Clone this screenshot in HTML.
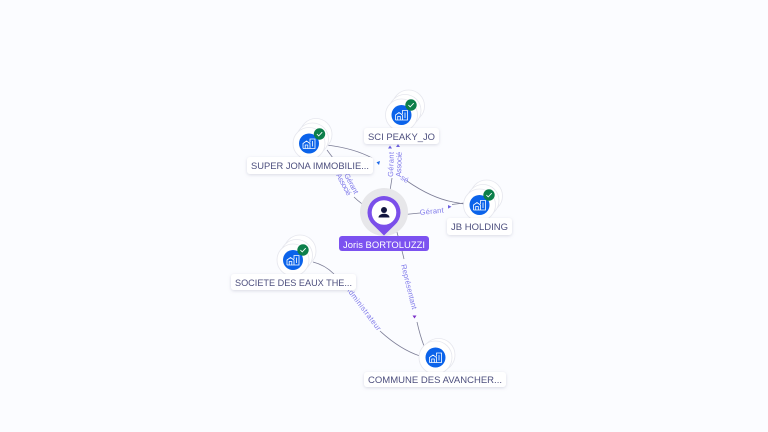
<!DOCTYPE html>
<html><head><meta charset="utf-8"><style>
html,body{margin:0;padding:0;background:#fbfcff}
svg{display:block}
text{font-family:"Liberation Sans",sans-serif}
.l{font-size:9px;fill:#4d4f7e}
.e{font-size:7.5px;fill:#7f79ea}
.w{fill:none;stroke:#7c7d96;stroke-width:.8}
</style></head><body>
<svg width="768" height="432" viewBox="0 0 768 432" xmlns="http://www.w3.org/2000/svg">
<defs>
<filter id="s" x="-20%" y="-40%" width="140%" height="200%"><feDropShadow dx="0" dy="1" stdDeviation="1.5" flood-color="#8a8aa8" flood-opacity=".3"/></filter>
<g id="b"><path d="M-6 5V0L-2.500 -2.500 1 0V5H-6M-3.800 5V1.500H-1.200V5M1 -1V-4.500H6V5H1M3.500 -2.500V3" fill="none" stroke="#fff" stroke-width=".8"/></g>
<g id="n"><circle cx="7" cy="-9" r="16" fill="#fff" stroke="#e6e7ee" stroke-width=".8"/><circle cx="3.500" cy="-4.500" r="16" fill="#fff" stroke="#e6e7ee" stroke-width=".8"/><circle r="16" fill="#fff" stroke="#e6e7ee" stroke-width=".8"/><circle r="10" fill="#0b63ea"/><use href="#b"/></g>
<g id="c"><circle r="5.700" fill="#0c7f4a"/><path d="M-2.600 0L-.8 1.900 2.700 -1.800" fill="none" stroke="#fff" stroke-width=".9"/></g>
</defs>
<rect width="768" height="432" fill="#fbfcff"/>
<path class="w" d="M327 145C343 147 359 151 372 158"/>
<path class="w" d="M327 150L333 158"/>
<path class="w" d="M354 197C358 201 363 205 369 208"/>
<path class="w" d="M389 197L392 178"/>
<path class="w" d="M407 181C420 190 437 199 453 202L464 204"/>
<path class="w" d="M400 215L420 213"/>
<path class="w" d="M452 204.500L464 203"/>
<path class="w" d="M395 225C398 236 402 250 404 259"/>
<path class="w" d="M417 322C419 331 421 338 424 346"/>
<path class="w" d="M313 262C321 264 328 268 334 274"/>
<path class="w" d="M380 331C392 342 405 351 420 356"/>
<g fill="#6a5fe0">
<path d="M380 161l-3.500 1.200 2.500 2.800z" fill="#1f6ae8"/>
<path d="M388 148.500l2-3 2 3z"/><path d="M396 147l2-3 2 3z"/>
<path d="M448 205l3.500 1.800-3.500 1.800z"/>
<path d="M412.500 315.500l2 3 2-3z" fill="#7b32c8"/>
</g>
<text class="e" transform="translate(393,177) rotate(-88)" textLength="25">Gérant</text>
<text class="e" transform="translate(401,177) rotate(-88)" textLength="25">Associé</text>
<text class="e" transform="translate(400,179) rotate(32)">sé</text>
<text class="e" transform="translate(420,215) rotate(-6)" textLength="24">Gérant</text>
<text class="e" transform="translate(344,175) rotate(62)" textLength="22">Gérant</text>
<text class="e" transform="translate(336,175) rotate(62)" textLength="24">Associé</text>
<text class="e" transform="translate(401,265) rotate(76)" textLength="46">Représentant</text>
<text class="e" transform="translate(345,288) rotate(53)" textLength="54">Administrateur</text>

<use href="#n" x="309" y="143.500"/><use href="#c" x="319.500" y="134"/>
<use href="#n" x="401.500" y="115"/><use href="#c" x="411" y="105"/>
<use href="#n" x="479.500" y="205"/><use href="#c" x="489" y="195"/>
<use href="#n" x="293" y="260"/><use href="#c" x="303" y="250"/>
<circle cx="438.500" cy="355" r="16.500" fill="#fff" stroke="#e6e7ee" stroke-width=".8"/>
<circle cx="435.500" cy="357.500" r="16.500" fill="#fff" stroke="#e6e7ee" stroke-width=".8"/>
<circle cx="435.500" cy="357.500" r="10" fill="#0b63ea"/><use href="#b" x="435.500" y="357.500"/>

<rect x="247" y="157" width="126" height="17" rx="3" fill="#fff" filter="url(#s)"/>
<text class="l" x="251" y="169" textLength="118" lengthAdjust="spacingAndGlyphs">SUPER JONA IMMOBILIE...</text>
<rect x="364" y="128" width="75" height="16" rx="3" fill="#fff" filter="url(#s)"/>
<text class="l" x="368" y="140" textLength="67" lengthAdjust="spacingAndGlyphs">SCI PEAKY_JO</text>
<rect x="447" y="218" width="65" height="17" rx="3" fill="#fff" filter="url(#s)"/>
<text class="l" x="451" y="230" textLength="57" lengthAdjust="spacingAndGlyphs">JB HOLDING</text>
<rect x="231" y="274" width="125" height="16" rx="3" fill="#fff" filter="url(#s)"/>
<text class="l" x="235" y="286" textLength="117" lengthAdjust="spacingAndGlyphs">SOCIETE DES EAUX THE...</text>
<rect x="364" y="372" width="142" height="15" rx="3" fill="#fff" filter="url(#s)"/>
<text class="l" x="368" y="383" textLength="134" lengthAdjust="spacingAndGlyphs">COMMUNE DES AVANCHER...</text>

<circle cx="384" cy="212" r="24" fill="#e7e7ea"/>
<path d="M384 235.500L373 224.800A16.500 16.500 0 1 1 395 224.800Z" fill="#7b4fea"/>
<circle cx="384" cy="212.500" r="12.300" fill="#fff"/>
<circle cx="384" cy="210" r="3" fill="#12163f"/>
<path d="M378.500 217.500C378.500 212.500 389.500 212.500 389.500 217.500Z" fill="#12163f"/>
<rect x="339" y="236" width="90" height="15" rx="3" fill="#7c52f0"/>
<text x="343" y="248" font-size="9.500" fill="#fff" textLength="82" lengthAdjust="spacingAndGlyphs">Joris BORTOLUZZI</text>
</svg>
</body></html>
